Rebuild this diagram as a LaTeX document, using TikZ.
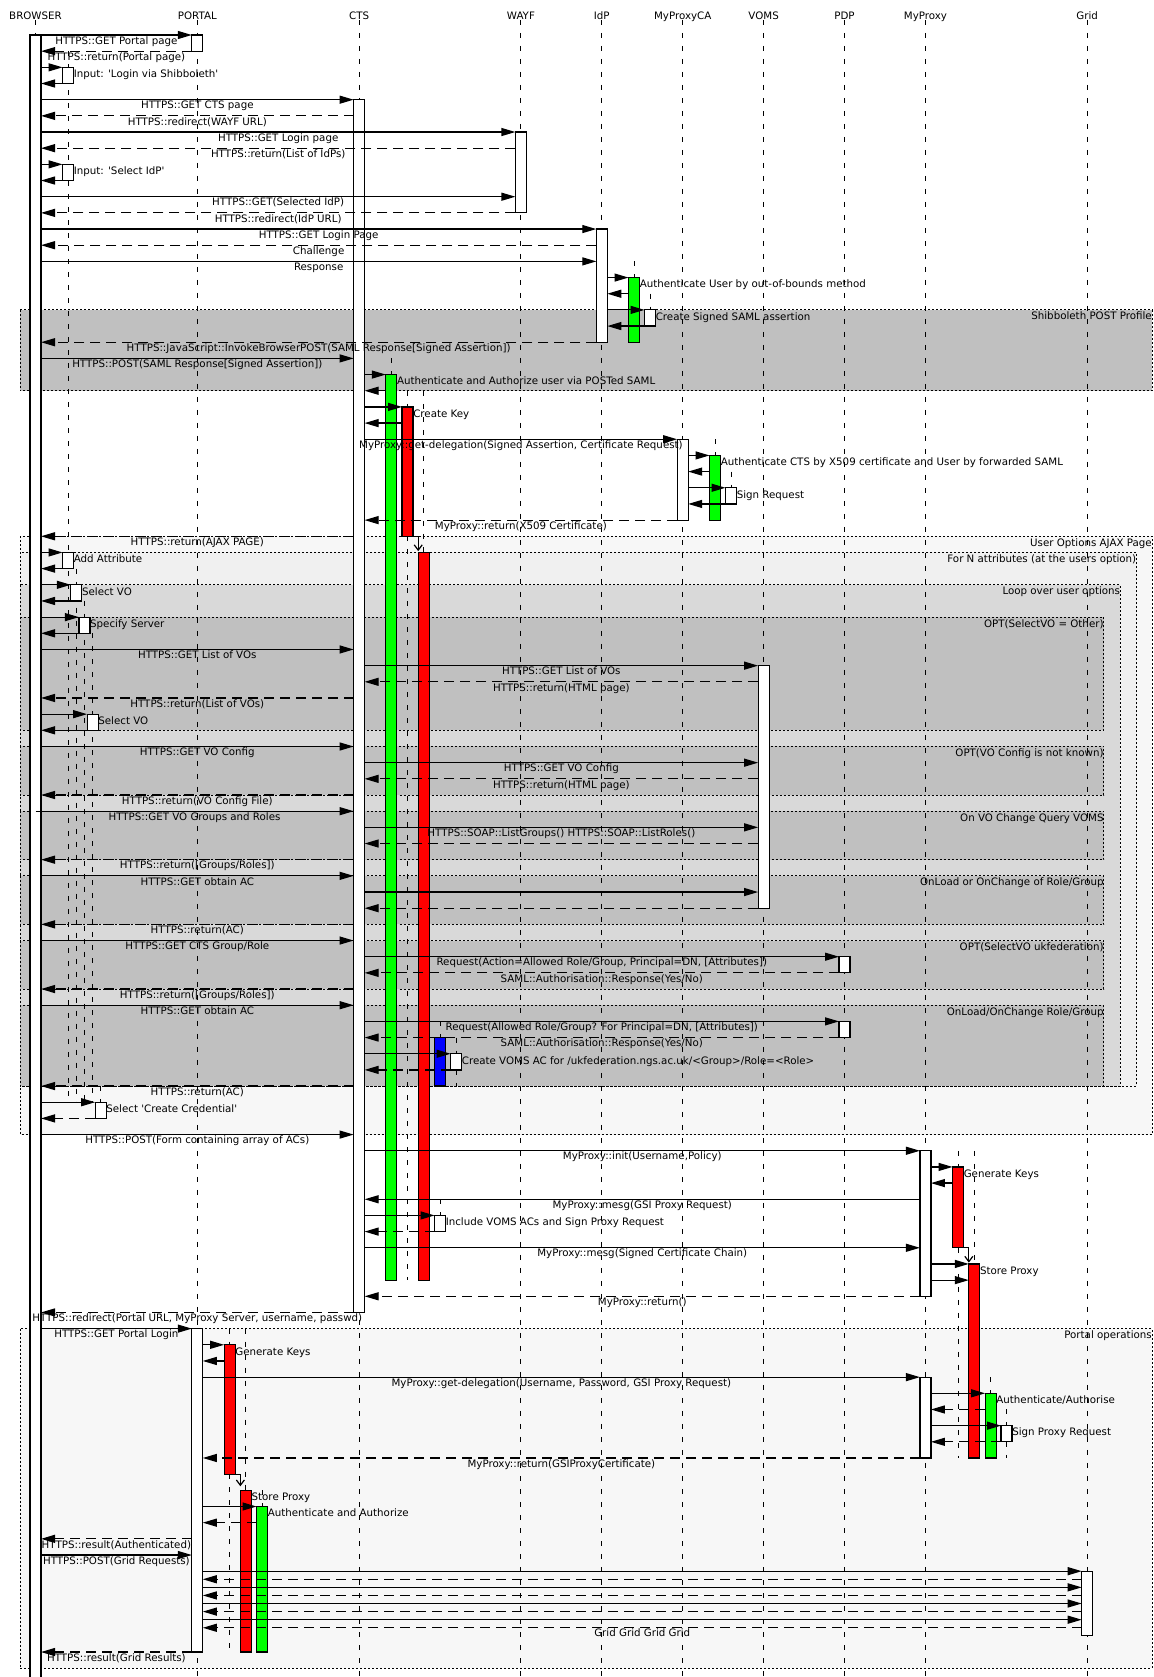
\documentclass[tikz,border=0pt]{standalone}
\usepackage{fontspec}
\setmainfont{DejaVu Sans}
\usetikzlibrary{arrows.meta}
\definecolor{optgray}{RGB}{192,192,192}
\definecolor{loopgray}{RGB}{217,217,217}
\definecolor{forngray}{RGB}{240,240,240}
\definecolor{pagegray}{RGB}{247,247,247}
\newcommand{\sq}{\XeTeXglyph\XeTeXcharglyph"0027\relax}

\begin{document}
\begin{tikzpicture}[x=0.75pt, y=-12.1275pt,
  font=\fontsize{7.7}{9}\selectfont,
  lifeline/.style={line width=0.75pt, dash pattern=on 3.75pt off 6pt},
  act/.style={draw, line width=0.9pt},
  call/.style={line width=0.9pt, -{Triangle[length=10.5pt, width=6pt]}},
  reply/.style={call, dash pattern=on 7.5pt off 4.5pt},
  spawn/.style={line width=0.9pt, -{Straight Barb[length=4pt, width=6pt]}},
  frag/.style={line width=0.6pt, dash pattern=on 1.5pt off 1.5pt},
  msgtxt/.style={anchor=base, inner sep=0pt, yshift=-6.9pt},
  selftxt/.style={anchor=base west, inner sep=0pt, yshift=-7.7pt},
  fragtxt/.style={anchor=base east, inner sep=0pt, yshift=-7.5pt}
]
  \fill[white, use as bounding box] (0,-2.1645) rectangle (1153,101.545);

  % combined fragments (x in px, y in message rows)
  \foreach \ft/\fb/\rx/\col/\txt [count=\i] in {
      17/22/1152/optgray/{Shibboleth POST Profile},
      31/68/1152/pagegray/{User Options AJAX Page},
      32/65/1136.5/forngray/{For N attributes (at the users option)},
      34/65/1120.3/loopgray/{Loop over user options},
      36/43/1103.8/optgray/{OPT(SelectVO = Other)},
      44/47/1103.8/optgray/{OPT(VO Config is not known)},
      48/51/1103.8/optgray/{On VO Change Query VOMS},
      52/55/1103.8/optgray/{OnLoad or OnChange of Role/Group},
      56/59/1103.8/optgray/{OPT(SelectVO ukfederation)},
      60/65/1103.8/optgray/{OnLoad/OnChange Role/Group},
      80/101/1152/pagegray/{Portal operations}}{
    \draw[frag, fill=\col] (20,\ft) rectangle (\rx,\fb);
    \node[fragtxt] (frag\i) at (\rx,\ft) {\txt};
  }

  % participants and lifelines
  \foreach \n/\x/\txt in {browser/35.5/BROWSER, portal/197.3/PORTAL,
      cts/359.1/CTS, wayf/520.9/WAYF, idp/601.8/IdP, myproxyca/682.7/MyProxyCA,
      voms/763.6/VOMS, pdp/844.5/PDP, myproxy/925.4/MyProxy, grid/1087.2/Grid}{
    \node[anchor=base, inner sep=0pt] (\n) at (\x,-0.971) {\txt};
    \draw[lifeline] ([yshift=-0.5pt]\n.base) -- (\n.base |- 0,101.7);
  }

  % lifelines of nested activations
  \foreach \x/\ya/\yb in {68/1/66, 76.3/33/66, 84.4/35/66, 92.6/37/66, 100.6/65/66,
      391.3/20/21, 407.5/22/23, 407.5/31/77, 423.7/22/32, 440/61/62, 440/72/73,
      456.1/62/63, 456.1/64/65, 634/14/15, 650/16/17, 715/25/26, 731/27/28,
      958/69/70, 958/75/88, 974.3/69/76, 990.6/83/84, 1006.5/85/86, 1006.5/87/88,
      229.6/80/81, 229.6/89/100, 245.9/80/90, 262/90/91}
    \draw[lifeline] (\x,\ya) -- (\x,\yb);

  % activation bars
  \foreach \x/\ya/\yb/\col in {35.5/0/102/white,
      68/2/3/white, 68/8/9/white, 68/32/33/white, 76.3/34/35/white,
      84.4/36/37/white, 92.6/42/43/white, 100.6/66/67/white,
      197.3/0/1/white, 197.3/80/100/white, 229.6/81/89/red, 245.9/90/100/red,
      262/91/100/green,
      359.1/4/79/white, 391.3/21/77/green, 407.5/23/31/red, 423.7/32/77/red,
      440/62/65/blue, 456.1/63/64/white, 440/73/74/white,
      520.9/6/11/white, 601.8/12/19/white, 634/15/19/green, 650/17/18/white,
      682.7/25/30/white, 715/26/30/green, 731/28/29/white,
      763.6/39/54/white, 844.5/57/58/white, 844.5/61/62/white,
      925.4/69/78/white, 925.4/83/88/white, 958/70/75/red, 974.3/76/88/red,
      990.6/84/88/green, 1006.5/86/87/white, 1087.2/95/99/white}
    \draw[act, fill=\col] ({\x-5.5},\ya) rectangle ({\x+5.5},\yb);

  % synchronous messages
  \foreach \r/\xa/\xb/\txt [count=\i] in {
      0/41/191.8/{HTTPS::GET Portal page},
      2/41/62.5/{}, 3/62.5/41/{},
      4/41/353.6/{HTTPS::GET CTS page},
      6/41/515.4/{HTTPS::GET Login page},
      8/41/62.5/{}, 9/62.5/41/{},
      10/41/515.4/{HTTPS::GET(Selected IdP)},
      12/41/596.3/{HTTPS::GET Login Page},
      14/41/596.3/{Response},
      15/607.3/628.5/{}, 16/628.5/607.3/{},
      17/607.3/644.5/{}, 18/644.5/607.3/{},
      20/41/353.6/{HTTPS::POST(SAML Response[Signed Assertion])},
      21/364.6/385.8/{}, 22/385.8/364.6/{},
      23/364.6/402/{}, 24/402/364.6/{},
      25/364.6/677.2/{MyProxy::get-delegation(Signed Assertion, Certificate Request)},
      26/688.2/709.5/{}, 27/709.5/688.2/{},
      28/688.2/725.5/{}, 29/725.5/688.2/{},
      32/41/62.5/{}, 33/62.5/41/{},
      34/41/70.8/{}, 35/70.8/41/{},
      36/41/78.9/{}, 37/78.9/41/{},
      38/41/353.6/{HTTPS::GET List of VOs},
      39/364.6/758.1/{HTTPS::GET List of VOs},
      42/41/87.1/{}, 43/87.1/41/{},
      44/41/353.6/{HTTPS::GET VO Config},
      45/364.6/758.1/{HTTPS::GET VO Config},
      48/35.5/353.6/{HTTPS::GET VO Groups and Roles},
      49/364.6/758.1/{HTTPS::SOAP::ListGroups() HTTPS::SOAP::ListRoles()},
      52/41/353.6/{HTTPS::GET obtain AC},
      53/364.6/758.1/{},
      56/41/353.6/{HTTPS::GET CTS Group/Role},
      57/364.6/839/{Request(Action=Allowed Role/Group, Principal=DN, [Attributes])},
      60/41/353.6/{HTTPS::GET obtain AC},
      61/364.6/839/{Request(Allowed Role/Group? For Principal=DN, [Attributes])},
      63/364.6/450.6/{},
      66/41/95.1/{},
      68/41/353.6/{HTTPS::POST(Form containing array of ACs)},
      69/364.6/919.9/{MyProxy::init(Username,Policy)},
      70/930.9/952.5/{}, 71/952.5/930.9/{},
      72/919.9/364.6/{MyProxy::mesg(GSI Proxy Request)},
      73/364.6/434.5/{},
      75/364.6/919.9/{MyProxy::mesg(Signed Certificate Chain)},
      76/930.9/968.8/{}, 77/930.9/968.8/{},
      80/41/191.8/{HTTPS::GET Portal Login},
      81/202.8/224.1/{}, 82/224.1/202.8/{},
      83/202.8/919.9/{MyProxy::get-delegation(Username, Password, GSI Proxy Request)},
      84/930.9/985.1/{},
      86/930.9/1001/{},
      91/202.8/256.5/{},
      94/41/191.8/{HTTPS::POST(Grid Requests)},
      95/202.8/1081.7/{}, 96/202.8/1081.7/{},
      97/202.8/1081.7/{}, 98/202.8/1081.7/{}}
    \draw[call] (\xa,\r) -- node[msgtxt] (call\i) {\txt} (\xb,\r);

  % replies
  \foreach \r/\xa/\xb/\txt [count=\i] in {
      1/191.8/41/{HTTPS::return(Portal page)},
      5/353.6/41/{HTTPS::redirect(WAYF URL)},
      7/515.4/41/{HTTPS::return(List of IdPs)},
      11/515.4/41/{HTTPS::redirect(IdP URL)},
      13/596.3/41/{Challenge},
      19/596.3/41/{HTTPS::JavaScript::InvokeBrowserPOST(SAML Response[Signed Assertion])},
      30/677.2/364.6/{MyProxy::return(X509 Certificate)},
      31/353.6/41/{HTTPS::return(AJAX PAGE)},
      40/758.1/364.6/{HTTPS::return(HTML page)},
      41/353.6/41/{HTTPS::return(List of VOs)},
      46/758.1/364.6/{HTTPS::return(HTML page)},
      47/353.6/41/{HTTPS::return(VO Config File)},
      50/758.1/364.6/{},
      51/353.6/41/{HTTPS::return([Groups/Roles])},
      54/758.1/364.6/{},
      55/353.6/41/{HTTPS::return(AC)},
      58/839/364.6/{SAML::Authorisation::Response(Yes/No)},
      59/353.6/41/{HTTPS::return([Groups/Roles])},
      62/839/364.6/{SAML::Authorisation::Response(Yes/No)},
      64/450.6/364.6/{},
      65/353.6/41/{HTTPS::return(AC)},
      67/95.1/41/{},
      74/434.5/364.6/{},
      78/919.9/364.6/{MyProxy::return()},
      79/353.6/41/{HTTPS::redirect(Portal URL, MyProxy Server, username, passwd)},
      85/985.1/930.9/{},
      87/1001/930.9/{},
      88/919.9/202.8/{MyProxy::return(GSIProxyCertificate)},
      92/256.5/202.8/{},
      93/191.8/41/{HTTPS::result(Authenticated)},
      95.5/1081.7/202.8/{}, 96.5/1081.7/202.8/{}, 97.5/1081.7/202.8/{},
      98.5/1081.7/202.8/{Grid Grid Grid Grid},
      100/191.8/41/{HTTPS::result(Grid Results)}}
    \draw[reply] (\xa,\r) -- node[msgtxt] (reply\i) {\txt} (\xb,\r);

  % notes beside nested activations
  \foreach \x/\r/\txt [count=\i] in {
      73.5/2/{Input: \sq Login via Shibboleth\sq},
      73.5/8/{Input: \sq Select IdP\sq},
      639.5/15/{Authenticate User by out-of-bounds method},
      655.5/17/{Create Signed SAML assertion},
      396.8/21/{Authenticate and Authorize user via POSTed SAML},
      413/23/{Create Key},
      720.5/26/{Authenticate CTS by X509 certificate and User by forwarded SAML},
      736.5/28/{Sign Request},
      73.5/32/{Add Attribute},
      81.8/34/{Select VO},
      89.9/36/{Specify Server},
      98.1/42/{Select VO},
      461.6/63/{Create VOMS AC for /ukfederation.ngs.ac.uk/<Group>/Role=<Role>},
      106.1/66/{Select \sq Create Credential\sq},
      963.5/70/{Generate Keys},
      445.5/73/{Include VOMS ACs and Sign Proxy Request},
      979.8/76/{Store Proxy},
      235.1/81/{Generate Keys},
      996.1/84/{Authenticate/Authorise},
      1012/86/{Sign Proxy Request},
      251.4/90/{Store Proxy},
      267.5/91/{Authenticate and Authorize}}
    \node[selftxt] (note\i) at (\x,\r) {\txt};

  % spawned activations
  \draw[spawn] (413,31) -| (418.2,31.92);
  \draw[spawn] (963.5,75) -| (968.8,75.92);
  \draw[spawn] (235.1,89) -| (240.4,89.75);
\end{tikzpicture}
\end{document}
